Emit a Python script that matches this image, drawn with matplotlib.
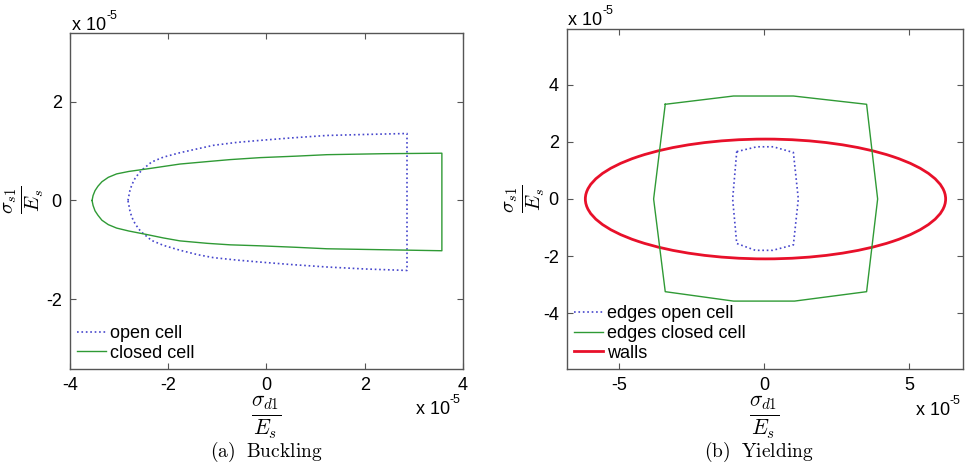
import matplotlib
matplotlib.use("Agg")
import matplotlib.pyplot as plt
from matplotlib.patches import Ellipse
from matplotlib.lines import Line2D
import numpy as np

plt.rcParams['font.family'] = ['Liberation Sans', 'DejaVu Sans']
plt.rcParams['mathtext.fontset'] = 'cm'

# --- datos (unidades de 1e-5) ---
# (a) pandeo: celda abierta (punteada azul), mitad superior y mitad inferior
open_top_x = [-2.82, -2.80, -2.78, -2.74, -2.68, -2.60, -2.51, -2.34, -2.10, -1.76, -1.40, -1.08, -0.60, -0.13, 0.50, 1.23, 2.00, 2.86]
open_top_y = [0.00, 0.10, 0.20, 0.32, 0.44, 0.55, 0.64, 0.78, 0.88, 0.97, 1.05, 1.12, 1.18, 1.22, 1.27, 1.32, 1.34, 1.36]
open_bot_x = [2.86, 2.00, 1.23, 0.50, -0.13, -0.60, -1.08, -1.40, -1.76, -2.10, -2.34, -2.51, -2.60, -2.68, -2.74, -2.78, -2.80, -2.82]
open_bot_y = [-1.42, -1.39, -1.35, -1.30, -1.25, -1.21, -1.16, -1.10, -1.01, -0.91, -0.81, -0.67, -0.58, -0.46, -0.34, -0.21, -0.10, 0.00]

# celda cerrada (verde)
closed_top_x = [-3.55, -3.53, -3.49, -3.43, -3.35, -3.22, -3.05, -2.80, -2.44, -2.10, -1.76, -1.20, -0.74, -0.13, 0.60, 1.23, 2.40, 3.57]
closed_top_y = [0.00, 0.10, 0.20, 0.29, 0.38, 0.47, 0.54, 0.59, 0.64, 0.69, 0.74, 0.79, 0.83, 0.87, 0.90, 0.93, 0.95, 0.96]
closed_bot_x = [3.57, 2.40, 1.23, 0.60, -0.13, -0.74, -1.20, -1.76, -2.10, -2.44, -2.80, -3.05, -3.22, -3.35, -3.43, -3.49, -3.53, -3.55]
closed_bot_y = [-1.02, -1.00, -0.98, -0.95, -0.92, -0.90, -0.87, -0.82, -0.76, -0.69, -0.62, -0.56, -0.49, -0.40, -0.30, -0.21, -0.10, 0.00]

# (b) fluencia: aristas celda abierta, aristas celda cerrada, paredes (elipse)
edges_open_x = [-0.94, -0.25, 0.32, 1.01, 1.18, 1.01, 0.30, -0.30, -0.94, -1.08, -0.94]
edges_open_y = [1.66, 1.83, 1.83, 1.63, 0.00, -1.61, -1.80, -1.80, -1.56, 0.00, 1.66]
edges_closed_x = [-3.40, -1.05, 1.01, 3.53, 3.91, 3.53, 1.05, -1.05, -3.40, -3.80, -3.40]
edges_closed_y = [3.32, 3.61, 3.61, 3.32, 0.00, -3.25, -3.58, -3.58, -3.25, 0.00, 3.32]
walls_center = (0.05, 0.0)
walls_semi_x = 6.20
walls_semi_y = 2.10

escala = 1e-5
azul = '#4646cc'
verde = '#2f9a35'
rojo = '#e8102a'
gris = '#555555'

fig = plt.figure(figsize=(9.65, 4.66), dpi=100)
ax1 = fig.add_axes([0.0725, 0.2082, 0.4073, 0.7210])
ax2 = fig.add_axes([0.5876, 0.2082, 0.4104, 0.7296])


def estilo(ax):
    for s in ax.spines.values():
        s.set_color(gris)
        s.set_linewidth(1.0)
    ax.tick_params(direction='in', top=True, right=True, length=4,
                   width=0.8, color=gris, labelsize=13, pad=6)


def multiplicador(ax, x, y):
    # "x 10^-5" al estilo matlab
    t = ax.text(x, y, 'x 10', transform=ax.transAxes, fontsize=13,
                ha='left', va='baseline')
    ax.annotate('-5', xy=(1, 0.72), xycoords=t, fontsize=9, ha='left', va='bottom')


# --- (a) Buckling ---
ox = np.array(open_top_x + open_bot_x) * escala
oy = np.array(open_top_y + open_bot_y) * escala
cx = np.array(closed_top_x + closed_bot_x) * escala
cy = np.array(closed_top_y + closed_bot_y) * escala
ax1.plot(ox, oy, linestyle=':', color=azul, linewidth=1.2, label='open cell')
ax1.plot(cx, cy, linestyle='-', color=verde, linewidth=1.0, label='closed cell')
ax1.set_xlim(-4e-5, 4e-5)
ax1.set_ylim(-3.42e-5, 3.40e-5)
ax1.set_xticks(np.array([-4, -2, 0, 2, 4]) * escala)
ax1.set_xticklabels(['-4', '-2', '0', '2', '4'])
ax1.set_yticks(np.array([-2, 0, 2]) * escala)
ax1.set_yticklabels(['-2', '0', '2'])
estilo(ax1)
ax1.legend(loc='lower left', frameon=False, fontsize=13, handlelength=1.6,
           handletextpad=0.2, labelspacing=0.15, borderaxespad=0.2, borderpad=0.2)
multiplicador(ax1, 0.005, 1.009)
multiplicador(ax1, 0.88, -0.135)

# --- (b) Yielding ---
ax2.plot(np.array(edges_open_x) * escala, np.array(edges_open_y) * escala,
         linestyle=':', color=azul, linewidth=1.2)
ax2.plot(np.array(edges_closed_x) * escala, np.array(edges_closed_y) * escala,
         linestyle='-', color=verde, linewidth=1.0)
ax2.add_patch(Ellipse((walls_center[0] * escala, walls_center[1] * escala),
                      2 * walls_semi_x * escala, 2 * walls_semi_y * escala,
                      fill=False, edgecolor=rojo, linewidth=2.0))
ax2.set_xlim(-6.78e-5, 6.85e-5)
ax2.set_ylim(-5.96e-5, 5.96e-5)
ax2.set_xticks(np.array([-5, 0, 5]) * escala)
ax2.set_xticklabels(['-5', '0', '5'])
ax2.set_yticks(np.array([-4, -2, 0, 2, 4]) * escala)
ax2.set_yticklabels(['-4', '-2', '0', '2', '4'])
estilo(ax2)
manijas = [Line2D([], [], linestyle=':', color=azul, linewidth=1.2),
           Line2D([], [], linestyle='-', color=verde, linewidth=1.0),
           Line2D([], [], linestyle='-', color=rojo, linewidth=2.0)]
ax2.legend(manijas, ['edges open cell', 'edges closed cell', 'walls'],
           loc='lower left', frameon=False, fontsize=13, handlelength=1.6,
           handletextpad=0.2, labelspacing=0.15, borderaxespad=0.2, borderpad=0.2)
multiplicador(ax2, 0.003, 1.012)
multiplicador(ax2, 0.88, -0.135)

# etiquetas de ejes (fracciones)
for xc in [266, 764]:
    fig.text(xc / 965, 1 - 418 / 466, r'$\frac{\sigma_{d1}}{E_s}$', fontsize=22,
             ha='center', va='center')
fig.text(24 / 965, 1 - 200 / 466, r'$\frac{\sigma_{s1}}{E_s}$', fontsize=21,
         ha='center', va='center', rotation=90)
fig.text(525 / 965, 1 - 199 / 466, r'$\frac{\sigma_{s1}}{E_s}$', fontsize=21,
         ha='center', va='center', rotation=90)

# subtitulos
fig.text(266 / 965, 1 - 452 / 466, r'$\mathrm{(a)\ \ Buckling}$', fontsize=14,
         ha='center', va='center')
fig.text(759 / 965, 1 - 452 / 466, r'$\mathrm{(b)\ \ Yielding}$', fontsize=14,
         ha='center', va='center')

fig.savefig('out.png', dpi=100)
